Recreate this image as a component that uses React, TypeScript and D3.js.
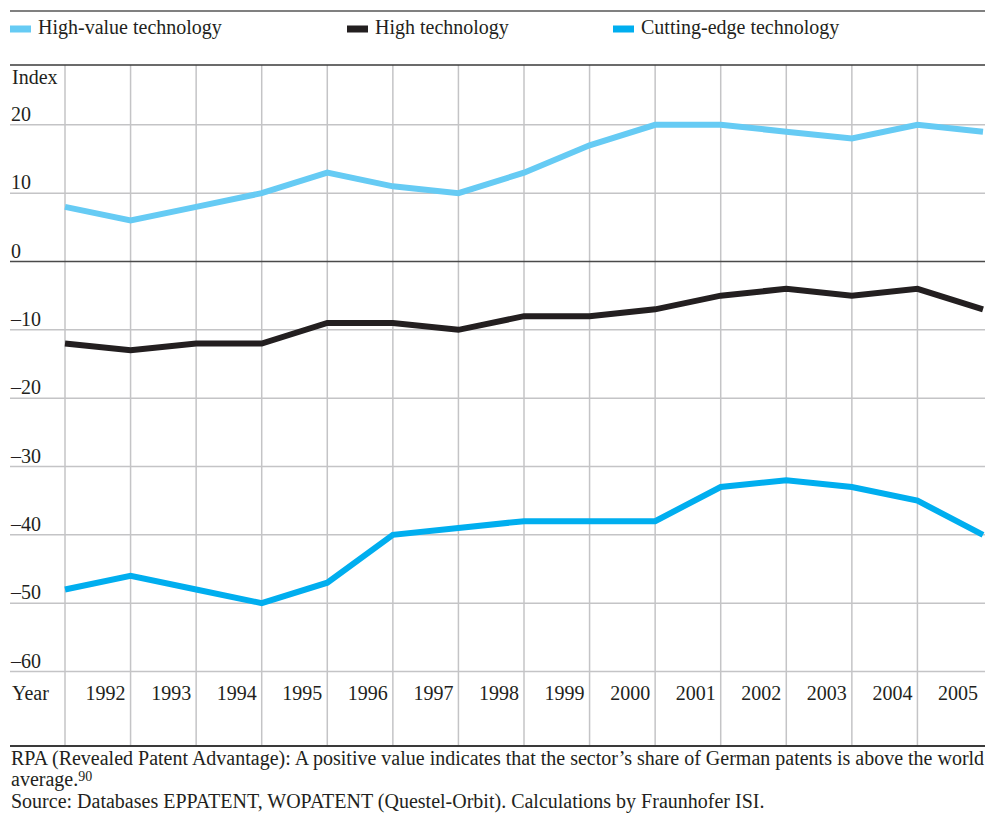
import React from "react";
import * as d3 from "d3";

const years = [1991, 1992, 1993, 1994, 1995, 1996, 1997, 1998, 1999, 2000, 2001, 2002, 2003, 2004, 2005];
const yearLabels = [1992, 1993, 1994, 1995, 1996, 1997, 1998, 1999, 2000, 2001, 2002, 2003, 2004, 2005];
const highValue = [8, 6, 8, 10, 13, 11, 10, 13, 17, 20, 20, 19, 18, 20, 19];
const highTech = [-12, -13, -12, -12, -9, -9, -10, -8, -8, -7, -5, -4, -5, -4, -7];
const cuttingEdge = [-48, -46, -48, -50, -47, -40, -39, -38, -38, -38, -33, -32, -33, -35, -40];
const yTicks = [20, 10, 0, -10, -20, -30, -40, -50, -60];

const series = [
  { name: "High-value technology", values: highValue, color: "#66cbf4" },
  { name: "High technology", values: highTech, color: "#231f20" },
  { name: "Cutting-edge technology", values: cuttingEdge, color: "#00aeef" },
];
const legendX = [10, 347, 613];

const W = 985;
const H = 815;
const font = "'Liberation Serif', 'DejaVu Serif', serif";
const fs = 20;

export default function App() {
  const ref = React.useRef<SVGSVGElement | null>(null);

  React.useEffect(() => {
    if (!ref.current) return;
    const svg = d3.select(ref.current);
    svg.selectAll("*").remove();

    const left = 10;
    const right = W;
    const plotTop = 65;
    const plotBottom = 746;

    const x = d3.scaleLinear().domain([1991, 2005]).range([65, 983]);
    const y = d3.scaleLinear().domain([0, -60]).range([261.5, 671.5]);

    // top rule
    svg.append("line").attr("x1", left).attr("x2", right).attr("y1", 11).attr("y2", 11)
      .attr("stroke", "#808080").attr("stroke-width", 2);

    // legend
    series.forEach((s, i) => {
      svg.append("rect").attr("x", legendX[i]).attr("y", 25.5).attr("width", 21).attr("height", 7)
        .attr("fill", s.color);
      svg.append("text").attr("x", legendX[i] + 28).attr("y", 34).text(s.name)
        .attr("font-family", font).attr("font-size", fs).attr("fill", "#231f20");
    });

    // vertical gridlines
    svg.append("g").selectAll("line").data(years.slice(0, -1)).join("line")
      .attr("x1", d => x(d)).attr("x2", d => x(d))
      .attr("y1", plotTop).attr("y2", plotBottom)
      .attr("stroke", "#c4c4c6").attr("stroke-width", 1.5);

    // horizontal gridlines
    svg.append("g").selectAll("line").data(yTicks).join("line")
      .attr("x1", left).attr("x2", right)
      .attr("y1", d => y(d)).attr("y2", d => y(d))
      .attr("stroke", d => (d === 0 ? "#4a4a4a" : "#c4c4c6"))
      .attr("stroke-width", 1.5);

    // plot frame top / bottom
    svg.append("line").attr("x1", left).attr("x2", right).attr("y1", plotTop).attr("y2", plotTop)
      .attr("stroke", "#3a3a3a").attr("stroke-width", 1.5);
    svg.append("line").attr("x1", left).attr("x2", right).attr("y1", plotBottom).attr("y2", plotBottom)
      .attr("stroke", "#3a3a3a").attr("stroke-width", 2);

    // y labels
    svg.append("text").attr("x", 12).attr("y", 84).text("Index")
      .attr("font-family", font).attr("font-size", fs).attr("fill", "#231f20");
    svg.append("g").selectAll("text").data(yTicks).join("text")
      .attr("x", 11).attr("y", d => y(d) - 4)
      .text(d => (d < 0 ? "\u2013" + Math.abs(d) : String(d)))
      .attr("font-family", font).attr("font-size", fs).attr("fill", "#231f20");

    // x labels
    svg.append("text").attr("x", 12).attr("y", 700).text("Year")
      .attr("font-family", font).attr("font-size", fs).attr("fill", "#231f20");
    svg.append("g").selectAll("text").data(yearLabels).join("text")
      .attr("x", d => x(d) - 5).attr("y", 700).attr("text-anchor", "end")
      .text(d => String(d))
      .attr("font-family", font).attr("font-size", fs).attr("fill", "#231f20");

    // lines
    const line = d3.line<number>().x((_, i) => x(years[i])).y(d => y(d));
    series.forEach(s => {
      svg.append("path").datum(s.values).attr("d", line)
        .attr("fill", "none").attr("stroke", s.color).attr("stroke-width", 6)
        .attr("stroke-linejoin", "miter");
    });

    // notes
    const notes = [
      { t: "RPA (Revealed Patent Advantage): A positive value indicates that the sector\u2019s share of German patents is above the world", y: 765 },
      { t: "Source: Databases EPPATENT, WOPATENT (Questel-Orbit). Calculations by Fraunhofer ISI.", y: 808 },
    ];
    notes.forEach(n => {
      svg.append("text").attr("x", 11).attr("y", n.y).text(n.t)
        .attr("font-family", font).attr("font-size", fs).attr("fill", "#231f20");
    });
    const avg = svg.append("text").attr("x", 11).attr("y", 786)
      .attr("font-family", font).attr("font-size", fs).attr("fill", "#231f20");
    avg.append("tspan").text("average.");
    avg.append("tspan").text("90").attr("font-size", 14).attr("dy", -5);
  }, []);

  return (
    <svg ref={ref} width={W} height={H}
      style={{ position: "absolute", left: 0, top: 0, background: "#fff" }} />
  );
}
